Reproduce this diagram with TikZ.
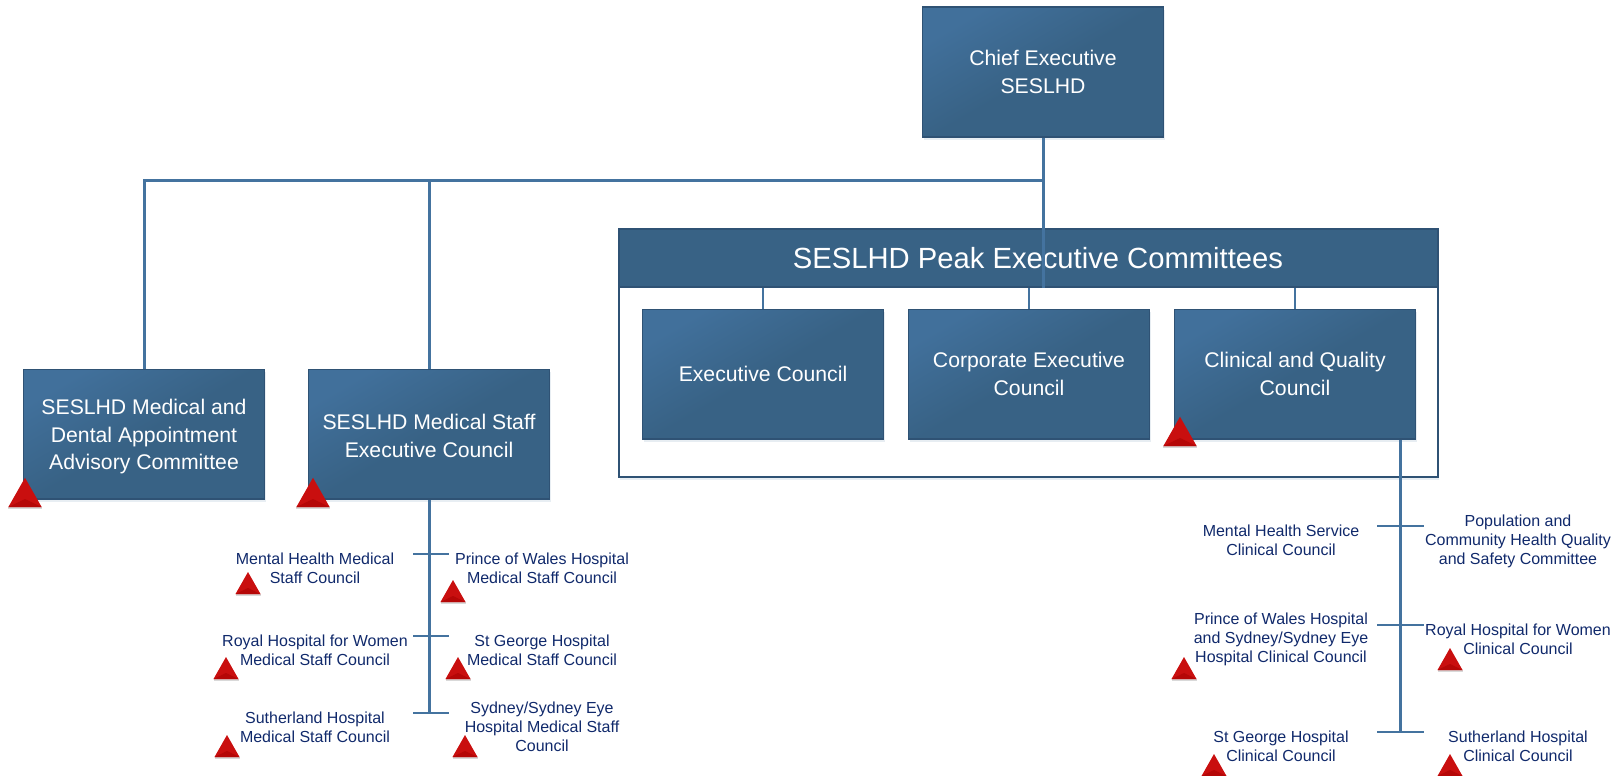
\documentclass[tikz,border=0pt]{standalone}
\usepackage{xcolor}
\usepackage{fontspec}
\usepackage{tikz}
\usetikzlibrary{shadows}
\setmainfont{Liberation Sans}
\definecolor{boxlight}{HTML}{41709B}
\definecolor{boxdark}{HTML}{386285}
\definecolor{boxedge}{HTML}{2F5274}
\definecolor{linkblue}{HTML}{44739F}
\definecolor{notetext}{HTML}{10296B}
\definecolor{warnred}{HTML}{C90F0F}
\definecolor{warndark}{HTML}{B50707}
\tikzset{
  softshadow/.style={drop shadow={shadow xshift=1pt,shadow yshift=-3pt,opacity=0.12,fill=boxlight}},
  bluebox/.style={draw=boxedge,line width=1.5pt,top color=boxlight,bottom color=boxdark,middle color=boxdark,
    shading angle=30,text=white,align=center,inner sep=0pt,minimum width=241pt,minimum height=129.5pt,
    font=\fontsize{21.2}{27.5}\selectfont,softshadow},
  peakframe/.style={draw=boxedge,line width=2pt,fill=white,minimum width=819pt,minimum height=248pt,inner sep=0pt,softshadow},
  peakhead/.style={draw=boxedge,line width=1.5pt,fill=boxdark,text=white,minimum width=819pt,minimum height=58pt,inner sep=0pt,
    font=\fontsize{29.2}{32}\selectfont},
  note/.style={text=notetext,align=center,inner sep=0pt,font=\fontsize{16}{19}\selectfont},
  link/.style={draw=linkblue,line width=3pt},
  thinlink/.style={draw=linkblue,line width=2.4pt},
  warn/.pic={
    \fill[gray,opacity=0.3] (-12.5,0) rectangle (12.5,1.5);
    \fill[warnred] (-12.5,0) -- (0,-22) -- (12.5,0) -- cycle;
    \fill[warndark] (-12.5,0) -- (0,-6) -- (12.5,0) -- cycle;
  }
}
\begin{document}
\begin{tikzpicture}[x=1pt,y=-1pt]
  \useasboundingbox (0,0) rectangle (1612,776);

  % top row
  \node[bluebox] (chief) at (1043,72) {Chief Executive\\SESLHD};
  \node[peakframe] (frame) at (1028.5,353) {};
  \node[peakhead] (peak) at (1028.5,258) {\hspace*{19pt}SESLHD Peak Executive Committees};
  \node[bluebox] (exec) at (763,374) {Executive Council};
  \node[bluebox] (corp) at (1029,374) {Corporate Executive\\Council};
  \node[bluebox] (clin) at (1295,374) {Clinical and Quality\\Council};
  \node[bluebox] (madc) at (144,434) {\rule{0pt}{21pt}SESLHD Medical and\\Dental Appointment\\Advisory Committee};
  \node[bluebox] (msec) at (429,434) {\rule{0pt}{19pt}SESLHD Medical Staff\\Executive Council};

  % connectors from the top
  \coordinate (bus) at (1043,180);
  \draw[link] (chief.south) -- (chief.south |- peak.south);
  \draw[link] (bus) -- (madc.north |- bus) -- (madc.north);
  \draw[link] (msec.north |- bus) -- (msec.north);
  \foreach \n in {exec,corp,clin} {
    \draw[thinlink] (\n.north |- peak.south) -- (\n.north);
  }

  % left branch
  \coordinate (ltrunk) at (429,713);
  \draw[link] (msec.south) -- (ltrunk);
  \foreach \y/\n in {554/a,636/b,713/c} {
    \coordinate (ltickl\n) at (413,\y);
    \coordinate (ltickr\n) at (449,\y);
    \draw[thinlink] (ltickl\n) -- (ltickr\n);
  }
  \node[note] (mhm) at (315,568) {Mental Health Medical\\Staff Council};
  \node[note] (pow) at (542,568) {Prince of Wales Hospital\\Medical Staff Council};
  \node[note] (rhw) at (315,650) {Royal Hospital for Women\\Medical Staff Council};
  \node[note] (stg) at (542,650) {St George Hospital\\Medical Staff Council};
  \node[note] (suh) at (315,727) {Sutherland Hospital\\Medical Staff Council};
  \node[note] (syd) at (542,727) {Sydney/Sydney Eye\\Hospital Medical Staff\\Council};

  % right branch
  \coordinate (rtop) at (1400,440);
  \coordinate (rtrunk) at (1400,732);
  \draw[link] (rtop) -- (rtrunk);
  \foreach \y/\n in {526/a,625/b,732/c} {
    \coordinate (rtickl\n) at (1377,\y);
    \coordinate (rtickr\n) at (1424,\y);
    \draw[thinlink] (rtickl\n) -- (rtickr\n);
  }
  \node[note] (mhs) at (1281,540) {Mental Health Service\\Clinical Council};
  \node[note] (pop) at (1518,541) {Population and\\Community Health Quality\\and Safety Committee};
  \node[note] (pwc) at (1281,639) {Prince of Wales Hospital\\and Sydney/Sydney Eye\\Hospital Clinical Council};
  \node[note] (rwc) at (1518,639) {Royal Hospital for Women\\Clinical Council};
  \node[note] (sgc) at (1281,746) {St George Hospital\\Clinical Council};
  \node[note] (shc) at (1518,746) {Sutherland Hospital\\Clinical Council};

  % red triangles
  \foreach \px/\py in {25/507,313/507,1180/446} {
    \pic[scale=1.33] at (\px,\py) {warn};
  }
  \foreach \px/\py in {248/594,453/602,226/679,458/679,227/757,465/757,1184/679,1450/670,1214/776,1450/776} {
    \pic at (\px,\py) {warn};
  }
\end{tikzpicture}
\end{document}
